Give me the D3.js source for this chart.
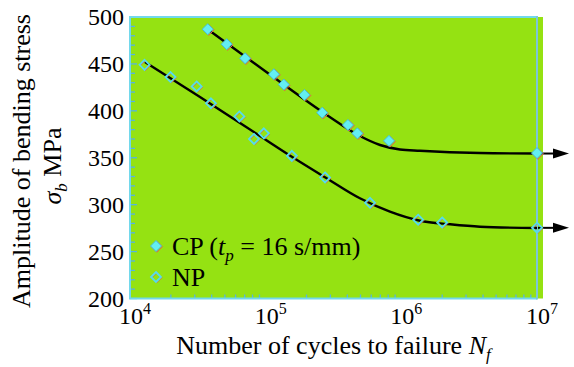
<!DOCTYPE html>
<html>
<head>
<meta charset="utf-8">
<script src="https://cdn.jsdelivr.net/npm/d3@7"></script>
<style>
  body { margin: 0; background: #fff; }
  svg text { font-family: "Liberation Serif", "Times New Roman", serif; fill: #000; }
</style>
</head>
<body>
<script>
// test data: cycles to failure (N) and stress amplitude (MPa)
let cpN = [37400, 51600, 70500, 115000, 136000, 193000, 261000, 404000, 474000, 811000, 1e7];
let cpS = [487, 471, 456, 439, 428, 417, 398, 385, 376, 368, 355];
let npN = [12800, 19900, 31000, 39500, 64000, 82000, 97000, 156000, 274000, 588000, 1330000, 2000000, 1e7];
let npS = [449, 436, 426, 408, 394, 370, 376, 352, 329, 302, 284, 281, 275.5];

// fitted S-N curves
let cpFitN = [38900, 115000, 282000, 495000, 697000, 977000, 1370000, 3800000, 1e7];
let cpFitS = [485, 435.5, 395.6, 373.2, 363.6, 358.8, 357.5, 355.1, 354.5];
let npFitN = [12900, 32800, 90800, 156000, 274000, 495000, 824000, 1370000, 2290000, 3800000, 1e7];
let npFitS = [452, 414.7, 373.2, 351.1, 329.2, 306.8, 292.5, 282.9, 279.1, 276.5, 275.1];

// runouts (arrows) at 10^7
let runN = [1e7, 1e7];
let runS = [354.5, 275.3];

let yTicks = [200, 250, 300, 350, 400, 450, 500];
let xTicks = [1e4, 1e5, 1e6, 1e7];
let legendLabels = ["CP", "NP"];

let width = 574, height = 367;
let margin = { top: 17, right: 37, bottom: 68.5, left: 130 };

let svg = d3.select("body").append("svg")
    .attr("width", width)
    .attr("height", height);

let x = d3.scaleLog().domain([1e4, 1e7]).range([margin.left, width - margin.right]);
let y = d3.scaleLinear().domain([200, 500]).range([height - margin.bottom, margin.top]);

let x0 = x.range()[0], x1 = x.range()[1];
let yb = y.range()[0], yt = y.range()[1];

// plot background
svg.append("rect")
    .attr("x", x0).attr("y", yt)
    .attr("width", x1 - x0 + 6).attr("height", yb - yt)
    .attr("fill", "#95e212");

let tickColor = "#55b4e2";

// left axis minor/major ticks
let yMinor = d3.range(200, 501, 10);
svg.selectAll(".ytick")
    .data(yMinor)
    .enter().append("line")
    .attr("x1", x0).attr("x2", (d) => x0 + (d % 50 === 0 ? 7 : 5))
    .attr("y1", (d) => y(d)).attr("y2", (d) => y(d))
    .attr("stroke", tickColor).attr("stroke-width", 1.3);

// bottom axis minor ticks
let xMinor = [];
[1e4, 1e5, 1e6].forEach((dec) => {
  for (let k = 2; k <= 9; k++) xMinor.push(dec * k);
});
svg.selectAll(".xtick")
    .data(xMinor)
    .enter().append("line")
    .attr("x1", (d) => x(d)).attr("x2", (d) => x(d))
    .attr("y1", yb).attr("y2", (d) => yb - 4)
    .attr("stroke", tickColor).attr("stroke-width", 1.3);

// frame
let frame = "#72d8ec";
svg.append("path")
    .attr("d", `M${x1},${yt}H${x0}V${yb}H${x1}`)
    .attr("fill", "none").attr("stroke", frame).attr("stroke-width", 2);
svg.append("line")
    .attr("x1", x1).attr("x2", x1).attr("y1", yt - 1).attr("y2", yb + 1)
    .attr("stroke", "#7cc6d8").attr("stroke-width", 2);

// tick labels
svg.selectAll(".ylab")
    .data(yTicks)
    .enter().append("text")
    .attr("x", x0 - 6).attr("y", (d) => y(d) + 8)
    .attr("text-anchor", "end")
    .style("font-size", "24px")
    .text((d) => d);

let xl = svg.selectAll(".xlab")
    .data(xTicks)
    .enter().append("text")
    .attr("x", (d) => x(d) + 5).attr("y", yb + 25)
    .attr("text-anchor", "middle")
    .style("font-size", "24px");
xl.append("tspan").text("10");
xl.append("tspan").attr("dy", -10).style("font-size", "16px").text((d) => Math.round(Math.log10(d)));

// axis titles
let xt = svg.append("text")
    .attr("x", (x0 + x1) / 2).attr("y", 354)
    .attr("text-anchor", "middle")
    .style("font-size", "26px");
xt.append("tspan").text("Number of cycles to failure ");
xt.append("tspan").style("font-style", "italic").text("N");
xt.append("tspan").attr("dy", 6).style("font-style", "italic").style("font-size", "17px").text("f");

svg.append("text")
    .attr("transform", "translate(30,161) rotate(-90)")
    .attr("text-anchor", "middle")
    .style("font-size", "26px")
    .text("Amplitude of bending stress");
let yt2 = svg.append("text")
    .attr("transform", "translate(61,166) rotate(-90)")
    .attr("text-anchor", "middle")
    .style("font-size", "26px");
yt2.append("tspan").style("font-style", "italic").text("σ");
yt2.append("tspan").attr("dy", 6).style("font-style", "italic").style("font-size", "17px").text("b");
yt2.append("tspan").attr("dy", -6).text(" MPa");

// fitted curves
let line = d3.line()
    .x((d) => x(d[0]))
    .y((d) => y(d[1]))
    .curve(d3.curveMonotoneX);

[[cpFitN, cpFitS], [npFitN, npFitS]].forEach(([ns, ss]) => {
  svg.append("path")
      .attr("d", line(d3.zip(ns, ss)))
      .attr("fill", "none")
      .attr("stroke", "#000")
      .attr("stroke-width", 2.4);
});

// runout arrows
runN.forEach((n, i) => {
  let ax = x(n) + 1, ay = y(runS[i]);
  svg.append("line")
      .attr("x1", ax).attr("x2", ax + 18).attr("y1", ay).attr("y2", ay)
      .attr("stroke", "#000").attr("stroke-width", 2);
  svg.append("path")
      .attr("d", `M${ax + 15},${ay - 5}L${ax + 31},${ay}L${ax + 15},${ay + 5}Z`)
      .attr("fill", "#000");
});

// diamond markers
function diamond(r) {
  return `M0,${-r}L${r},0L0,${r}L${-r},0Z`;
}

function drawMarker(g, filled) {
  g.append("path")
      .attr("d", diamond(filled ? 5.5 : 5))
      .attr("transform", "translate(0.9,0.7)")
      .attr("fill", "none")
      .attr("stroke", "#e8604a").attr("stroke-width", 1);
  g.append("path")
      .attr("d", diamond(filled ? 5.5 : 5))
      .attr("fill", filled ? "#63eef2" : "none")
      .attr("stroke", filled ? "#45bfd4" : "#55dcee")
      .attr("stroke-width", filled ? 1 : 1.8);
}

d3.zip(npN, npS).forEach((d) => {
  let g = svg.append("g").attr("transform", `translate(${x(d[0])},${y(d[1])})`);
  drawMarker(g, false);
});
d3.zip(cpN, cpS).forEach((d) => {
  let g = svg.append("g").attr("transform", `translate(${x(d[0])},${y(d[1])})`);
  drawMarker(g, true);
});

// legend
let lg = svg.append("g");
legendLabels.forEach((lab, i) => {
  let ly = 246 + i * 31;
  let g = lg.append("g").attr("transform", `translate(156,${ly})`);
  drawMarker(g, i === 0);
  let t = lg.append("text")
      .attr("x", 172).attr("y", ly + 9)
      .style("font-size", "26px");
  if (i === 0) {
    t.append("tspan").text("CP (");
    t.append("tspan").style("font-style", "italic").text("t");
    t.append("tspan").attr("dy", 6).style("font-style", "italic").style("font-size", "17px").text("p");
    t.append("tspan").attr("dy", -6).text(" = 16 s/mm)");
  } else {
    t.text(lab);
  }
});
</script>
</body>
</html>
